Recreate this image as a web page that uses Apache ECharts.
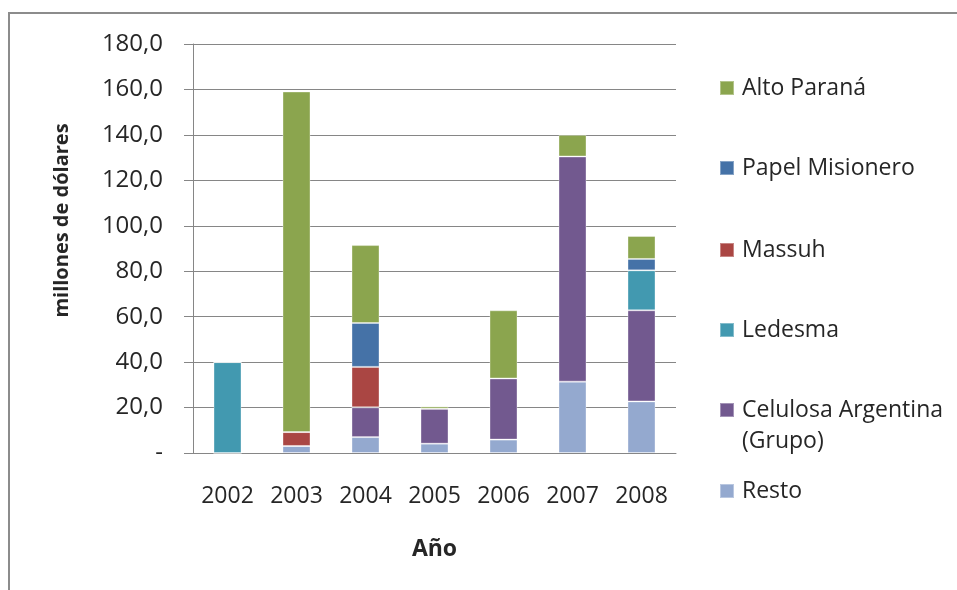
<!DOCTYPE html>
<html>
<head>
<meta charset="utf-8">
<script src="https://cdn.jsdelivr.net/npm/echarts@6/dist/echarts.min.js"></script>
<style>
html,body{margin:0;padding:0;background:#fff;}
#chart{width:957px;height:590px;}
</style>
</head>
<body>
<div id="chart"></div>
<script>
const years = ['2002','2003','2004','2005','2006','2007','2008'];
const resto     = [0,   3.1, 7.0,  4.1, 5.9, 31.4, 22.7];
const celulosa  = [0,   0,   13.1, 15.4, 26.9, 99.1, 40.1];
const ledesma   = [40.0,0,   0,    0,   0,    0,   17.6];
const massuh    = [0,   6.1, 17.8, 0,   0,    0,    0];
const papel     = [0,   0,   19.3, 0,   0,    0,    5.0];
const altoParana= [0, 149.9, 34.3, 1.0, 30.0, 9.5, 10.1];
const seriesNames = ['Resto','Celulosa Argentina (Grupo)','Ledesma','Massuh','Papel Misionero','Alto Paraná'];
const seriesData = [resto, celulosa, ledesma, massuh, papel, altoParana];
const colors = ['#94a9cf','#72598f','#4299b0','#aa4643','#4572a7','#8ba54e'];
const legendOrder = ['Alto Paraná','Papel Misionero','Massuh','Ledesma','Celulosa Argentina (Grupo)','Resto'];
const legendCenters = [88, 168, 250, 330, 410, 491];

const font = 'Open Sans';
const txt = '#262626';
const LH = 31;

const legends = legendOrder.map((n, i) => {
  const multi = n === 'Celulosa Argentina (Grupo)';
  return {
    orient: 'vertical',
    left: 714,
    top: multi ? legendCenters[i] - 3 * LH / 2 - 5 : legendCenters[i] - LH / 2 - 5,
    padding: 5,
    itemWidth: 14,
    itemHeight: 14,
    itemGap: 0,
    icon: 'rect',
    data: [n],
    formatter: multi ? ' \nCelulosa Argentina\n(Grupo)' : '{name}',
    textStyle: {fontFamily: font, fontSize: 23, color: txt, lineHeight: LH, padding: [0, 0, 0, 3]}
  };
});

const chart = echarts.init(document.getElementById('chart'));
chart.setOption({
  animation: false,
  color: colors,
  graphic: [{
    type: 'rect',
    shape: {x: 9, y: 13, width: 1000, height: 700},
    style: {fill: 'none', stroke: '#8c8c8c', lineWidth: 2},
    silent: true
  }],
  legend: legends,
  grid: {left: 193, right: 281, top: 44, bottom: 137},
  xAxis: {
    type: 'category',
    data: years,
    axisLine: {lineStyle: {color: '#868686', width: 1}},
    axisTick: {length: 8, lineStyle: {color: '#868686'}},
    axisLabel: {fontFamily: font, fontSize: 23, color: txt, margin: 32},
    name: 'Año',
    nameLocation: 'middle',
    nameGap: 85,
    nameTextStyle: {fontFamily: font, fontSize: 23, fontWeight: 'bold', color: txt}
  },
  yAxis: {
    type: 'value',
    min: 0, max: 180, interval: 20,
    axisLine: {show: true, lineStyle: {color: '#868686', width: 1}},
    axisTick: {show: true, length: 9, lineStyle: {color: '#868686'}},
    splitLine: {lineStyle: {color: '#868686', width: 1}},
    axisLabel: {
      fontFamily: font, fontSize: 24, color: txt, margin: 30,
      formatter: v => v === 0 ? '-' : v.toFixed(1).replace('.', ',')
    },
    name: 'millones de dólares',
    nameLocation: 'middle',
    nameGap: 121,
    nameTextStyle: {fontFamily: font, fontSize: 20, fontWeight: 'bold', color: txt, padding: [0, 0, 0, 56]}
  },
  series: seriesNames.map((n, i) => ({
    name: n,
    type: 'bar',
    stack: 'total',
    barWidth: 28,
    data: seriesData[i],
    itemStyle: {color: colors[i], borderColor: 'rgba(255,255,255,0.35)', borderWidth: 1}
  }))
});
</script>
</body>
</html>
